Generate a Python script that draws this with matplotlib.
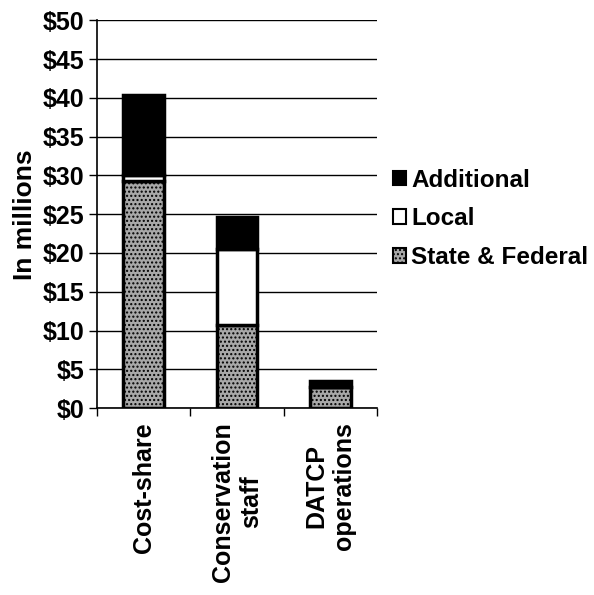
import matplotlib
matplotlib.use("Agg")
import matplotlib.pyplot as plt
from matplotlib.patches import Patch
import numpy as np

# Funding by category (in millions)
categories = ["Cost-share", "Conservation\nstaff", "DATCP\noperations"]
state_federal = [29.3, 10.7, 2.7]
local = [0.8, 9.8, 0.0]
additional = [10.2, 4.2, 0.8]
yticks = [0, 5, 10, 15, 20, 25, 30, 35, 40, 45, 50]

plt.rcParams["font.family"] = ["Liberation Sans", "DejaVu Sans"]
plt.rcParams["font.weight"] = "bold"
plt.rcParams["hatch.color"] = "#3a3a3a"
plt.rcParams["hatch.linewidth"] = 1.0

fig = plt.figure(figsize=(5.94, 5.95), dpi=100)
ax = fig.add_axes([0.163, 0.314, 0.472, 0.652])

x = np.arange(len(categories))
w = 0.43
sf = np.array(state_federal)
lo = np.array(local)
ad = np.array(additional)

ax.bar(x, sf, w, color="#a8a8a8", edgecolor="black", linewidth=2.5, hatch="....", zorder=3)
ax.bar(x, lo, w, bottom=sf, color="white", edgecolor="black", linewidth=2.5, zorder=3)
ax.bar(x, ad, w, bottom=sf + lo, color="black", edgecolor="black", linewidth=2.5, zorder=3)

ax.set_xlim(-0.5, len(categories) - 0.5)
ax.set_ylim(0, 50)
ax.set_yticks(yticks)
ax.set_yticklabels(["$%d" % v for v in yticks], fontsize=18, fontweight="bold")
ax.yaxis.grid(True, color="black", linewidth=1, zorder=0)
ax.set_axisbelow(True)

ax.set_xticks(x)
ax.set_xticklabels(categories, rotation=90, fontsize=18, fontweight="bold", va="top")
ax.tick_params(axis="x", length=0, pad=10)
ax.set_xticks(np.arange(len(categories) + 1) - 0.5, minor=True)
ax.tick_params(axis="x", which="minor", length=6, width=1, direction="out")
ax.tick_params(axis="y", length=6, width=1, direction="out", pad=3)

for s in ["top", "right"]:
    ax.spines[s].set_visible(False)
ax.spines["left"].set_linewidth(1.2)
ax.spines["bottom"].set_linewidth(1.2)

ax.set_ylabel("In millions", fontsize=19, fontweight="bold", labelpad=4)

handles = [
    Patch(facecolor="black", edgecolor="black", linewidth=1.5, label="Additional"),
    Patch(facecolor="white", edgecolor="black", linewidth=1.5, label="Local"),
    Patch(facecolor="#a8a8a8", edgecolor="black", linewidth=1.5, hatch="....", label="State & Federal"),
]
fig.legend(handles=handles, loc="upper left", bbox_to_anchor=(0.645, 0.733),
           frameon=False, prop={"weight": "bold", "size": 17.5},
           handlelength=0.55, handleheight=0.55, handletextpad=0.2, labelspacing=0.65,
           borderaxespad=0)

fig.savefig("out.png", dpi=100)
